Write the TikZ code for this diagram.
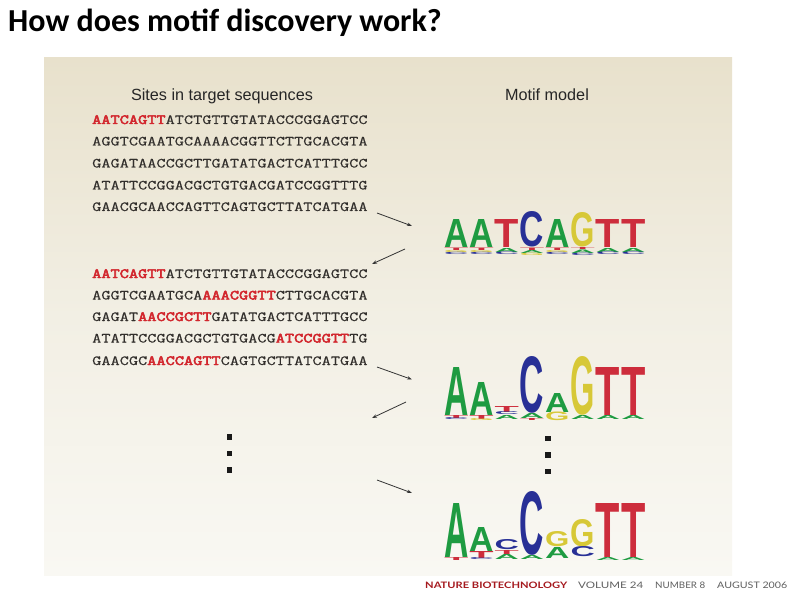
\documentclass[tikz,border=0pt]{standalone}
\usepackage{fontspec}
\usepackage{graphicx}
\usetikzlibrary{arrows.meta}
\setmainfont{Liberation Serif}
\newfontfamily\titlefont{Carlito}
\newfontfamily\headfont{Liberation Sans}
\newfontfamily\logofont{Liberation Sans}
\newfontfamily\footfont{Lato}
\newfontfamily\seqfont{Latin Modern Mono}[FakeBold=0.4]
\newfontfamily\seqbold{Latin Modern Mono}[FakeBold=3.2]
\definecolor{seqred}{RGB}{210,38,45}
\definecolor{seqgrey}{RGB}{50,47,44}
\definecolor{lgA}{RGB}{30,155,65}
\definecolor{lgC}{RGB}{40,48,150}
\definecolor{lgG}{RGB}{215,200,55}
\definecolor{lgT}{RGB}{205,45,60}
\definecolor{bgtop}{RGB}{232,225,204}
\definecolor{bgmid}{RGB}{242,239,228}
\definecolor{bgbot}{RGB}{249,248,243}
\definecolor{footred}{RGB}{165,25,30}
\definecolor{footgrey}{RGB}{95,95,95}
\newcounter{lgc}
\newcommand\logoL[5]{\stepcounter{lgc}\edef\lgname{lg\arabic{lgc}}%
  \node[lgbox, text=#5] (\lgname) at ({444+25.3*#1},#2) {\resizebox{24.3bp}{#3bp}{\logofont\bfseries #4}};}
\newcommand\seqtext[1]{\scalebox{1.273}[1]{\seqfont\fontsize{14bp}{16bp}\selectfont #1}}
\tikzset{
  lgbox/.style={anchor=south west, inner sep=0pt, outer sep=0pt},
  seqrow/.style={anchor=base west, inner sep=0pt, text=seqgrey},
  heading/.style={anchor=base, inner sep=0pt, text=black!85, font=\headfont\fontsize{16.2bp}{18bp}\selectfont},
  arr/.style={draw=black!80, line width=0.8bp, -{Stealth[length=5bp,width=3.5bp]}},
  dotbox/.style={fill=black!90, minimum size=5.5bp, inner sep=0pt, draw=none}
}
\newcommand\hl[1]{\textcolor{seqred}{\seqbold #1}}
\begin{document}
\begin{tikzpicture}[x=1bp,y=-1bp]
\useasboundingbox (0,0) rectangle (794,595);
\fill[white] (0,0) rectangle (794,595);
% panel background
\shade[top color=bgtop, bottom color=bgbot, middle color=bgmid] (44,57.5) rectangle (732,575);
% title
\node[anchor=base west, inner sep=0pt, font=\titlefont\bfseries\fontsize{32bp}{36bp}\selectfont] (title) at (8,32) {How does motif discovery work?};
% headings
\node[heading] (h1) at (222,101) {Sites in target sequences};
\node[heading] (h2) at (547,101) {Motif model};
% block 1
\node[seqrow] (s11) at (92,124) {\seqtext{\hl{AATCAGTT}ATCTGTTGTATACCCGGAGTCC}};
\node[seqrow] (s12) at (92,145.5) {\seqtext{AGGTCGAATGCAAAACGGTTCTTGCACGTA}};
\node[seqrow] (s13) at (92,167.5) {\seqtext{GAGATAACCGCTTGATATGACTCATTTGCC}};
\node[seqrow] (s14) at (92,189.5) {\seqtext{ATATTCCGGACGCTGTGACGATCCGGTTTG}};
\node[seqrow] (s15) at (92,211) {\seqtext{GAACGCAACCAGTTCAGTGCTTATCATGAA}};
% block 2
\node[seqrow] (s21) at (92,278) {\seqtext{\hl{AATCAGTT}ATCTGTTGTATACCCGGAGTCC}};
\node[seqrow] (s22) at (92,299.5) {\seqtext{AGGTCGAATGCA\hl{AAACGGTT}CTTGCACGTA}};
\node[seqrow] (s23) at (92,321) {\seqtext{GAGAT\hl{AACCGCTT}GATATGACTCATTTGCC}};
\node[seqrow] (s24) at (92,342.5) {\seqtext{ATATTCCGGACGCTGTGACG\hl{ATCCGGTT}TG}};
\node[seqrow] (s25) at (92,365) {\seqtext{GAACGC\hl{AACCAGTT}CAGTGCTTATCATGAA}};
% arrows
\coordinate (a1s) at (377,213); \coordinate (a1e) at (412,226);
\coordinate (a2s) at (405,249); \coordinate (a2e) at (372,264);
\coordinate (a3s) at (377,367); \coordinate (a3e) at (412,379.5);
\coordinate (a4s) at (406,402); \coordinate (a4e) at (372,418);
\coordinate (a5s) at (377,480); \coordinate (a5e) at (412,493);
\draw[arr] (a1s) -- (a1e);
\draw[arr] (a2s) -- (a2e);
\draw[arr] (a3s) -- (a3e);
\draw[arr] (a4s) -- (a4e);
\draw[arr] (a5s) -- (a5e);
% dots
\node[dotbox] (d1) at (229.5,437) {};
\node[dotbox] (d2) at (229.5,453.5) {};
\node[dotbox] (d3) at (229.5,470) {};
\node[dotbox] (d4) at (548,438.5) {};
\node[dotbox] (d5) at (548,455) {};
\node[dotbox] (d6) at (548,471.5) {};
% logo 1
\logoL{0}{247}{28}{A}{lgA}\logoL{0}{250}{2.5}{T}{lgT}\logoL{0}{252.5}{2}{G}{lgG}\logoL{0}{255}{2.2}{C}{lgC}
\logoL{1}{247}{28}{A}{lgA}\logoL{1}{250}{2.5}{T}{lgT}\logoL{1}{252.5}{2}{G}{lgG}\logoL{1}{255}{2.2}{C}{lgC}
\logoL{2}{247}{28}{T}{lgT}\logoL{2}{252}{4}{A}{lgA}\logoL{2}{255}{2.5}{C}{lgC}
\logoL{3}{247}{35}{C}{lgC}\logoL{3}{250}{2.5}{T}{lgT}\logoL{3}{253.5}{3}{A}{lgA}\logoL{3}{256}{2.3}{G}{lgG}
\logoL{4}{247}{28}{A}{lgA}\logoL{4}{250}{2.5}{T}{lgT}\logoL{4}{252.5}{2}{G}{lgG}\logoL{4}{255}{2.2}{C}{lgC}
\logoL{5}{247}{34}{G}{lgG}\logoL{5}{249.5}{2}{T}{lgT}\logoL{5}{253}{3.5}{A}{lgA}\logoL{5}{255.5}{2.3}{C}{lgC}
\logoL{6}{247}{28}{T}{lgT}\logoL{6}{252}{4}{A}{lgA}\logoL{6}{255}{2.5}{C}{lgC}
\logoL{7}{247}{28}{T}{lgT}\logoL{7}{252}{4}{A}{lgA}\logoL{7}{255}{2.5}{C}{lgC}
% logo 2
\logoL{0}{415}{48}{A}{lgA}\logoL{0}{418}{3}{T}{lgT}\logoL{0}{420}{2}{C}{lgC}
\logoL{1}{415}{33}{A}{lgA}\logoL{1}{419}{4}{T}{lgT}\logoL{1}{421}{2}{G}{lgG}
\logoL{2}{412}{6}{T}{lgT}\logoL{2}{415}{3}{C}{lgC}\logoL{2}{419}{4}{A}{lgA}
\logoL{3}{413}{56}{C}{lgC}\logoL{3}{418}{5}{A}{lgA}\logoL{3}{420}{2}{T}{lgT}
\logoL{4}{412}{19}{A}{lgA}\logoL{4}{420.5}{8.5}{G}{lgG}
\logoL{5}{415}{58}{G}{lgG}\logoL{5}{419}{4}{A}{lgA}
\logoL{6}{415}{48}{T}{lgT}\logoL{6}{419}{4}{A}{lgA}
\logoL{7}{415}{48}{T}{lgT}\logoL{7}{419}{4}{A}{lgA}
% logo 3
\logoL{0}{557}{54}{A}{lgA}\logoL{0}{560}{3}{T}{lgT}
\logoL{1}{551}{24}{A}{lgA}\logoL{1}{558}{7}{T}{lgT}\logoL{1}{560}{2}{C}{lgC}
\logoL{2}{550}{10}{C}{lgC}\logoL{2}{554}{4}{T}{lgT}\logoL{2}{559}{5}{A}{lgA}
\logoL{3}{555}{63}{C}{lgC}\logoL{3}{559}{4}{A}{lgA}
\logoL{4}{547}{15}{G}{lgG}\logoL{4}{558}{11}{A}{lgA}
\logoL{5}{547}{27}{G}{lgG}\logoL{5}{557}{10}{C}{lgC}
\logoL{6}{557}{54}{T}{lgT}\logoL{6}{560}{3}{A}{lgA}
\logoL{7}{557}{54}{T}{lgT}\logoL{7}{560}{3}{A}{lgA}
% footer
\node[anchor=base west, inner sep=0pt, text=footred] (f1) at (425,588) {\resizebox{142bp}{6.5bp}{\footfont\bfseries NATURE BIOTECHNOLOGY}};
\node[anchor=base west, inner sep=0pt, text=footgrey] (f2) at (578,588) {\resizebox{65bp}{6.5bp}{\footfont VOLUME 24}};
\node[anchor=base west, inner sep=0pt, text=footgrey] (f3) at (655,588) {\resizebox{50bp}{6.5bp}{\footfont NUMBER 8}};
\node[anchor=base west, inner sep=0pt, text=footgrey] (f4) at (717,588) {\resizebox{70bp}{6.5bp}{\footfont AUGUST 2006}};
\end{tikzpicture}
\end{document}
